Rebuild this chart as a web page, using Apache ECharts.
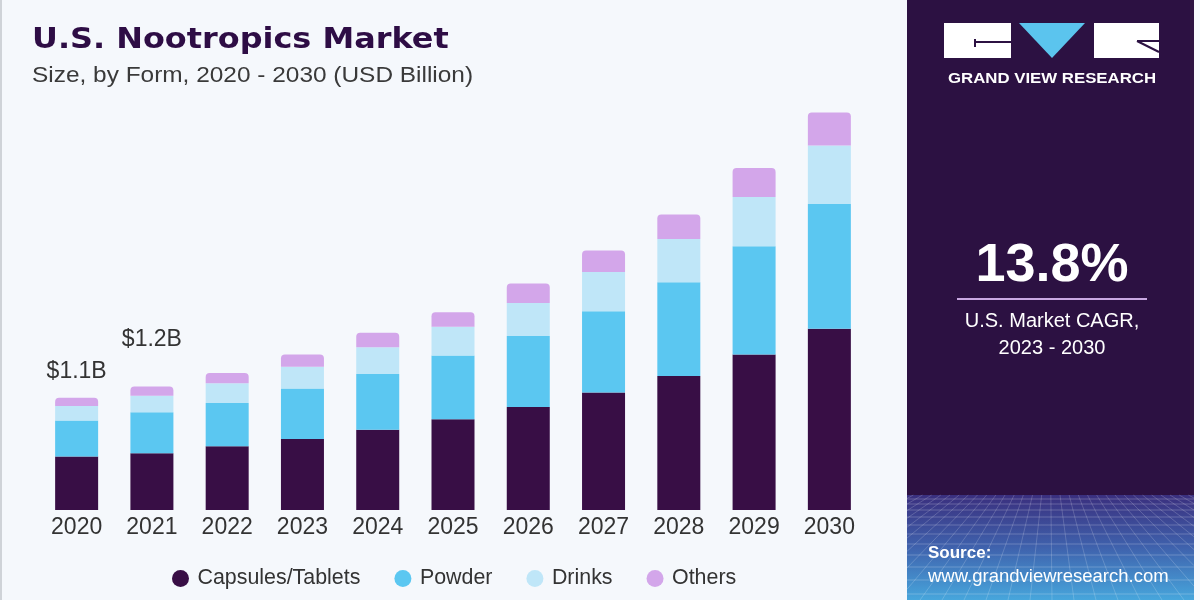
<!DOCTYPE html>
<html><head><meta charset="utf-8">
<script src="https://cdn.jsdelivr.net/npm/echarts/dist/echarts.min.js"></script>
<style>html,body{margin:0;padding:0;background:#f5f8fc}#c{width:1200px;height:600px}</style>
</head><body><div id="c"></div>
<script>
// ---- data ----
const years = ['2020','2021','2022','2023','2024','2025','2026','2027','2028','2029','2030'];
const capsules = [0.52,0.55,0.62,0.69,0.78,0.88,1.00,1.14,1.30,1.51,1.76];
const powder   = [0.35,0.40,0.42,0.49,0.54,0.62,0.69,0.79,0.91,1.05,1.21];
const drinks   = [0.14,0.16,0.19,0.21,0.26,0.28,0.32,0.38,0.42,0.48,0.57];
const others   = [0.08,0.09,0.10,0.12,0.14,0.14,0.19,0.21,0.24,0.28,0.32];
const seriesNames = ['Capsules/Tablets','Powder','Drinks','Others'];
const totalLabels = ['$1.1B','$1.2B','','','','','','','','',''];

// ---- styling ----
const colors = ['#380e45','#5bc7f1','#bfe6f8','#d3a6ea'];
const labelDistance = [15, 35];
const panelColor = '#2c1142';

const chart = echarts.init(document.getElementById('c'), null, {renderer:'canvas'});

// decorative perspective grid for panel bottom
const deco = [];
const PX0 = 907, PX1 = 1194, PY0 = 495, PY1 = 600;
[499,504,510,517,525,534,544,555,567,580,594].forEach(y => {
  deco.push({type:'line', shape:{x1:PX0,y1:y,x2:PX1,y2:y}, style:{stroke:'rgba(255,255,255,0.22)', lineWidth:1}, silent:true});
});
const vx = 1050, vy = 420;
for (let xb = 700; xb <= 1400; xb += 22) {
  const fx = y => vx + (xb - vx) * (y - vy) / (PY1 - vy);
  let ya = PY0, yb = PY1, xa = fx(ya), xbb = fx(yb);
  const clip = (x, y, xo, yo) => {
    if (x < PX0) { const t = (PX0 - xo) / (x - xo); return [PX0, yo + (y - yo) * t]; }
    if (x > PX1) { const t = (PX1 - xo) / (x - xo); return [PX1, yo + (y - yo) * t]; }
    return [x, y];
  };
  if ((xa < PX0 && xbb < PX0) || (xa > PX1 && xbb > PX1)) continue;
  const p2 = clip(xbb, yb, xa, ya);
  if (xa < PX0 || xa > PX1) continue;
  deco.push({type:'line', shape:{x1:xa,y1:ya,x2:p2[0],y2:p2[1]}, style:{stroke:'rgba(255,255,255,0.18)', lineWidth:1}, silent:true});
}

const mkSeries = (name, data, idx) => ({
  name, type:'bar', stack:'total', barWidth:43,
  itemStyle:{color:colors[idx]},
  emphasis:{disabled:true},
  data
});

const othersData = others.map((v,i) => totalLabels[i] ? {
  value:v,
  label:{show:true, position:'top', distance:labelDistance[i], formatter:totalLabels[i],
         fontSize:23, color:'#333', fontFamily:'Liberation Sans'}
} : v);

const option = {
  backgroundColor:'#f5f8fc',
  animation:false,
  grid:{left:39, right:333, top:98, bottom:90},
  xAxis:{type:'category', data:years,
    axisLine:{show:false}, axisTick:{show:false},
    axisLabel:{fontSize:23, color:'#333', margin:6, fontFamily:'Liberation Sans', interval:0}},
  yAxis:{type:'value', min:0, max:4, show:false, splitLine:{show:false}},
  legend:{
    data:seriesNames, left:167, top:563, icon:'circle',
    itemWidth:24, itemHeight:17, itemGap:34,
    textStyle:{fontSize:21.4, color:'#333', fontFamily:'Liberation Sans'},
    selectedMode:false
  },
  series:[
    mkSeries(seriesNames[0], capsules, 0),
    mkSeries(seriesNames[1], powder, 1),
    mkSeries(seriesNames[2], drinks, 2),
    Object.assign(mkSeries(seriesNames[3], othersData, 3), {itemStyle:{color:colors[3], borderRadius:[4,4,0,0]}})
  ],
  graphic:[
    {type:'rect', shape:{x:0,y:0,width:2,height:600}, style:{fill:'#cfd3d8'}, silent:true},
    {type:'text', x:32, y:40, scaleX:1.1, style:{text:'U.S. Nootropics Market', fontSize:29, fontWeight:'bold', fontFamily:'DejaVu Sans', fill:'#2e0d45', textVerticalAlign:'middle'}},
    {type:'text', x:32, y:76, scaleX:1.11, style:{text:'Size, by Form, 2020 - 2030 (USD Billion)', fontSize:22, fontFamily:'Liberation Sans', fill:'#3a3a3a', textVerticalAlign:'middle'}},
    // right panel
    {type:'rect', shape:{x:PX0,y:0,width:PX1-PX0,height:PY0}, style:{fill:panelColor}, silent:true},
    {type:'rect', shape:{x:PX0,y:PY0,width:PX1-PX0,height:PY1-PY0}, silent:true,
      style:{fill:new echarts.graphic.LinearGradient(0,0,0,1,[{offset:0,color:'#3a2f7e'},{offset:0.5,color:'#3f62ad'},{offset:1,color:'#47a6dc'}])}},
    ...deco,
    // logo
    {type:'rect', shape:{x:944,y:23,width:67,height:35}, style:{fill:'#ffffff'}, silent:true},
    {type:'polygon', shape:{points:[[1019,23],[1085,23],[1052,58]]}, style:{fill:'#5bc4ee'}, silent:true},
    {type:'rect', shape:{x:1094,y:23,width:65,height:35}, style:{fill:'#ffffff'}, silent:true},
    {type:'line', shape:{x1:975,y1:42,x2:1011,y2:42}, style:{stroke:panelColor, lineWidth:2}, silent:true},
    {type:'line', shape:{x1:975,y1:39,x2:975,y2:47}, style:{stroke:panelColor, lineWidth:2}, silent:true},
    {type:'line', shape:{x1:1137,y1:41,x2:1159,y2:41}, style:{stroke:panelColor, lineWidth:2}, silent:true},
    {type:'line', shape:{x1:1137,y1:41,x2:1159,y2:52}, style:{stroke:panelColor, lineWidth:2}, silent:true},
    {type:'text', x:1052, y:79, scaleX:1.2, style:{text:'GRAND VIEW RESEARCH', fontSize:14, fontWeight:'bold', fontFamily:'Liberation Sans', fill:'#ffffff', textAlign:'center', textVerticalAlign:'middle'}},
    // CAGR
    {type:'text', x:1052, y:266, style:{text:'13.8%', fontSize:54, fontWeight:'bold', fontFamily:'Liberation Sans', fill:'#ffffff', textAlign:'center', textVerticalAlign:'middle'}},
    {type:'line', shape:{x1:957,y1:299,x2:1147,y2:299}, style:{stroke:'#c9a8e2', lineWidth:2}, silent:true},
    {type:'text', x:1052, y:321, style:{text:'U.S. Market CAGR,', fontSize:20, fontFamily:'Liberation Sans', fill:'#ffffff', textAlign:'center', textVerticalAlign:'middle'}},
    {type:'text', x:1052, y:348, style:{text:'2023 - 2030', fontSize:20, fontFamily:'Liberation Sans', fill:'#ffffff', textAlign:'center', textVerticalAlign:'middle'}},
    // source
    {type:'text', x:928, y:553, style:{text:'Source:', fontSize:17, fontWeight:'bold', fontFamily:'Liberation Sans', fill:'#ffffff', textVerticalAlign:'middle'}},
    {type:'text', x:928, y:577, style:{text:'www.grandviewresearch.com', fontSize:18.5, fontFamily:'Liberation Sans', fill:'#ffffff', textVerticalAlign:'middle'}},
    {type:'rect', shape:{x:PX1,y:0,width:1200-PX1,height:600}, style:{fill:'#f5f8fc'}, silent:true}
  ]
};
chart.setOption(option);
</script>
</body></html>
